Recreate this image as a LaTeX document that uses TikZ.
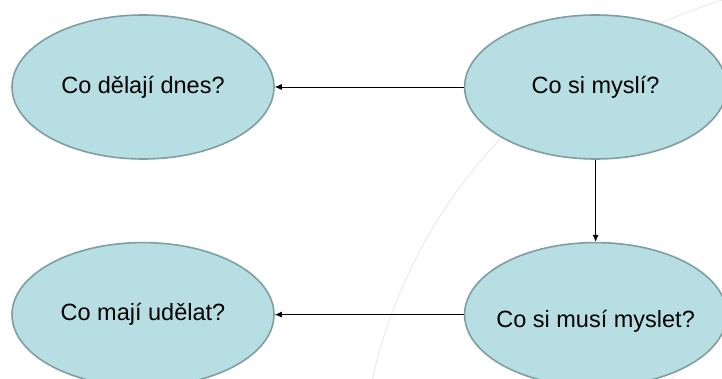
\documentclass[tikz,border=0pt]{standalone}
\usepackage{fontspec}
\setmainfont{Liberation Sans}
\usetikzlibrary{arrows.meta,positioning,shapes.geometric}
\definecolor{bubblefill}{HTML}{B7DEE2}
\definecolor{bubbleline}{HTML}{7F9EA2}
\definecolor{arcgray}{HTML}{EBEBEB}

\begin{document}
\begin{tikzpicture}[
  x=1pt, y=1pt,
  bubble/.style={ellipse, draw=bubbleline, line width=1.6pt, fill=bubblefill, minimum width=262pt, minimum height=144pt, inner sep=0pt, font=\fontsize{23.5}{27}\selectfont},
  link/.style={-{Latex[length=7pt,width=6pt]}, line width=0.8pt},
  node distance=82pt and 189pt
]
\useasboundingbox (0,0) rectangle (722,-379);
% faint template arcs
\draw[arcgray, line width=1pt] (875,-492) circle[radius=515];
\draw[arcgray, line width=1pt] (875,-492) circle[radius=232];
\node[bubble] (dnes) at (143,-87) {Co dělají dnes?};
\node[bubble, right=of dnes] (mysli) {Co si myslí?};
\node[bubble, below=of mysli] (musi) {\makebox[0pt]{\raisebox{-7pt}[\height][\depth]{Co si musí myslet?}}};
\node[bubble, below=of dnes] (udelat) {Co mají udělat?};
\draw[link] (mysli) -- (dnes);
\draw[link] (mysli) -- (musi);
\draw[link] (musi) -- (udelat);
\end{tikzpicture}
\end{document}
